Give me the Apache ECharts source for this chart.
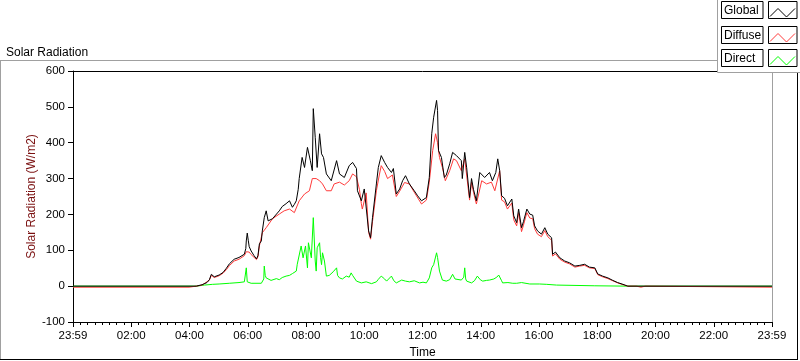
<!DOCTYPE html>
<html><head><meta charset="utf-8">
<script src="https://cdn.jsdelivr.net/npm/echarts@6/dist/echarts.min.js"></script>
<style>html,body{margin:0;padding:0;background:#fff}#c{width:800px;height:361px}</style>
</head><body><div id="c"></div>
<script>
// ---- data (times in minutes after midnight; -1 = 23:59 of previous day) ----
// The x axis runs from 23:59 (previous day) to 23:59: axis value = minutes + 1.
const seriesNames = ['Global', 'Diffuse', 'Direct'];
const xTickLabels = ['23:59', '02:00', '04:00', '06:00', '08:00', '10:00', '12:00', '14:00', '16:00', '18:00', '20:00', '22:00', '23:59'];
const yTickValues = [-100, 0, 100, 200, 300, 400, 500, 600];

const globalTimes = [-1,253,265,275,280,284,290,300,308,315,321,331,341,352,355,356,358,360,362,366,372,377,380,383,387,389,393,397,401,410,424,430,438,445,451,455,459,463,465,471,476,482,488,492,494,498,502,507,511,515,521,531,542,548,558,568,575,583,585,593,599,603,608,612,616,624,628,634,641,647,655,659,665,672,678,684,692,702,709,717,727,733,738,742,748,750,752,758,764,768,775,781,789,799,801,806,810,816,820,824,830,837,847,857,863,870,874,878,882,888,894,903,907,913,917,923,927,934,940,946,950,956,964,971,977,985,987,993,1002,1012,1022,1033,1043,1053,1063,1074,1080,1090,1101,1111,1121,1132,1142,1439];
const globalValues = [0,0,4,10,18,33,26,31,38,50,62,75,80,89,105,126,148,128,110,98,85,76,85,118,126,154,191,210,182,188,210,222,230,238,220,228,238,270,300,359,331,387,350,322,495,415,331,425,369,359,313,294,350,313,303,336,345,328,266,238,271,266,154,135,191,285,331,364,345,331,317,328,257,271,294,308,285,266,252,238,247,303,425,471,518,490,378,359,303,310,341,373,364,350,300,373,330,247,300,270,238,317,303,317,294,317,355,322,252,245,224,243,196,177,215,163,180,215,201,198,168,154,145,163,145,135,89,95,79,70,65,56,58,61,53,51,34,28,23,16,10,5,0,0];

const diffuseTimes = [-1,238,240,253,265,280,284,290,300,308,315,321,331,341,352,356,358,362,366,377,380,383,389,397,410,424,434,445,455,465,476,486,492,500,507,513,521,531,537,548,558,568,575,583,589,593,595,603,608,612,616,624,630,634,641,647,657,665,672,682,692,702,717,727,733,740,746,750,754,760,766,775,783,789,799,806,816,820,824,830,841,851,861,868,878,882,888,894,903,907,913,917,923,927,934,940,946,950,956,964,971,977,985,987,993,1002,1012,1022,1033,1043,1053,1063,1074,1080,1090,1101,1111,1121,1132,1142,1160,1162,1169,1171,1178,1180,1439];
const diffuseValues = [-3,-3,0,0,3,17,30,24,29,36,46,57,70,75,85,96,100,95,88,74,82,112,149,163,188,201,210,215,205,238,257,266,300,300,294,285,266,266,285,290,282,294,313,305,270,230,215,260,150,131,180,266,310,336,320,300,310,250,265,289,285,262,229,240,290,378,425,400,359,331,294,322,355,350,322,355,240,290,262,229,294,285,290,266,322,240,235,215,232,185,168,205,152,170,205,190,188,160,145,138,155,138,128,84,90,75,67,62,53,56,58,51,49,32,26,21,15,9,4,0,0,-3,-3,0,0,-3,-3];

const directTimes = [-1,253,270,286,300,321,341,352,355,356,358,366,387,392,393,395,397,407,418,424,430,438,445,451,455,459,461,465,469,473,478,482,484,490,494,498,500,502,507,509,511,513,517,521,527,535,542,544,548,554,562,568,572,575,583,593,603,614,624,628,634,641,645,655,660,665,676,684,692,702,713,720,727,733,738,742,748,750,754,760,768,775,781,786,789,799,804,806,808,810,820,826,832,838,843,851,857,866,872,876,878,882,884,895,905,913,923,940,960,975,995,1074,1142,1439];
const directValues = [0,0,3,5,6,8,10,12,14,51,12,8,8,20,56,30,23,16,21,18,24,28,30,35,40,42,61,61,112,79,112,51,121,79,191,70,42,107,121,80,60,93,70,28,30,40,51,30,23,20,28,25,37,30,14,9,12,7,12,19,28,20,14,28,15,9,17,14,12,15,9,11,9,23,51,60,93,80,42,17,14,18,33,20,17,17,25,51,20,14,9,15,28,18,14,16,17,20,25,31,34,15,9,10,8,8,10,6,6,5,3,1,0,0];

const seriesColors = { Global: '#000000', Diffuse: '#ff3a3a', Direct: '#00ff00' };

// ---- build ----
function pairs(t, v) { return t.map((x, i) => [x + 1, v[i]]); }

const FONT = 'Liberation Sans';
const chart = echarts.init(document.getElementById('c'), null, { renderer: 'canvas' });

const legendG = [];
const legendTops = [1.5, 26.5, 49.5];
legendG.push({ type: 'rect', shape: { x: 717.5, y: -1, width: 90, height: 73.5 }, style: { fill: '#fff', stroke: '#a0a0a0', lineWidth: 1 }, z: 100 });
seriesNames.forEach((n, i) => {
  const top = legendTops[i];
  legendG.push({ type: 'rect', shape: { x: 721.5, y: top, width: 41.5, height: 17 }, style: { fill: '#fff', stroke: '#000', lineWidth: 1 }, z: 101 });
  legendG.push({ type: 'text', x: 724, y: top + 9, style: { text: n, fill: '#000', font: '12px "' + FONT + '"', verticalAlign: 'middle' }, z: 102 });
  legendG.push({ type: 'rect', shape: { x: 768.5, y: top, width: 28.5, height: 17 }, style: { fill: '#fff', stroke: '#000', lineWidth: 1 }, z: 101 });
  legendG.push({ type: 'polyline', shape: { points: [[770, top + 15], [778, top + 7], [786.5, top + 15.5], [795, top + 7]] }, style: { stroke: seriesColors[n], lineWidth: 1, fill: null }, z: 102 });
});

const frameG = [
  { type: 'line', shape: { x1: 0, y1: 60.5, x2: 718, y2: 60.5 }, style: { stroke: '#a0a0a0', lineWidth: 1 }, z: 50 },
  { type: 'line', shape: { x1: 0.5, y1: 60.5, x2: 0.5, y2: 360 }, style: { stroke: '#a0a0a0', lineWidth: 1 }, z: 50 },
  { type: 'line', shape: { x1: 0, y1: 359.5, x2: 798, y2: 359.5 }, style: { stroke: '#000', lineWidth: 1 }, z: 50 },
  { type: 'line', shape: { x1: 797.5, y1: 72, x2: 797.5, y2: 360 }, style: { stroke: '#000', lineWidth: 1 }, z: 50 }
];

const option = {
  animation: false,
  backgroundColor: '#fff',
  textStyle: { fontFamily: FONT },
  title: { text: 'Solar Radiation', left: 1, top: 42, textStyle: { fontFamily: FONT, fontSize: 12, fontWeight: 'normal', color: '#000' } },
  grid: { left: 73, right: 28, top: 71, bottom: 39, containLabel: false, outerBoundsMode: 'none' },
  xAxis: [
    {
      type: 'value', min: 0, max: 1440, interval: 120, position: 'bottom',
      name: 'Time', nameLocation: 'middle', nameGap: 25, nameMoveOverlap: false,
      nameTextStyle: { fontFamily: FONT, fontSize: 12, color: '#000' },
      axisLine: { show: true, onZero: false, lineStyle: { color: '#000', width: 1 } },
      axisTick: { show: true, inside: false, length: 5, lineStyle: { color: '#000', width: 1 } },
      axisLabel: { show: true, margin: 8, fontFamily: FONT, fontSize: 11.5, color: '#000', showMinLabel: true, showMaxLabel: true,
        formatter: v => xTickLabels[Math.round(v / 120)] || '' },
      splitLine: { show: false }
    },
    {
      type: 'value', min: 0, max: 1440, interval: 15, position: 'bottom',
      axisLine: { show: false, onZero: false },
      axisTick: { show: true, inside: false, length: 3, lineStyle: { color: '#000', width: 1 } },
      axisLabel: { show: false },
      splitLine: { show: false }
    },
    {
      type: 'value', min: 0, max: 1440, position: 'top',
      axisLine: { show: true, onZero: false, lineStyle: { color: '#000', width: 1 } },
      axisTick: { show: false }, axisLabel: { show: false }, splitLine: { show: false }
    }
  ],
  yAxis: [
    {
      type: 'value', min: -100, max: 600, interval: 100, position: 'left',
      name: 'Solar Radiation (W/m2)', nameLocation: 'middle', nameGap: 35, nameRotate: 90, nameMoveOverlap: false,
      nameTextStyle: { fontFamily: FONT, fontSize: 12, color: '#7a1010' },
      axisLine: { show: true, onZero: false, lineStyle: { color: '#000', width: 1 } },
      axisTick: { show: true, inside: false, length: 5, lineStyle: { color: '#000', width: 1 } },
      axisLabel: { show: true, margin: 8, fontFamily: FONT, fontSize: 11.5, color: '#000',
        formatter: v => (yTickValues.indexOf(v) >= 0 ? String(v) : '') },
      splitLine: { show: false }
    },
    {
      type: 'value', min: -100, max: 600, interval: 100, position: 'right',
      axisLine: { show: true, onZero: false, lineStyle: { color: '#a0a0a0', width: 1 } },
      axisTick: { show: false }, axisLabel: { show: false }, splitLine: { show: false }
    }
  ],
  series: [
    { name: 'Direct', type: 'line', data: pairs(directTimes, directValues), showSymbol: false, symbol: 'none',
      lineStyle: { color: seriesColors.Direct, width: 1 }, itemStyle: { color: seriesColors.Direct }, z: 2 },
    { name: 'Diffuse', type: 'line', data: pairs(diffuseTimes, diffuseValues), showSymbol: false, symbol: 'none',
      lineStyle: { color: seriesColors.Diffuse, width: 1 }, itemStyle: { color: seriesColors.Diffuse }, z: 3 },
    { name: 'Global', type: 'line', data: pairs(globalTimes, globalValues), showSymbol: false, symbol: 'none',
      lineStyle: { color: seriesColors.Global, width: 1 }, itemStyle: { color: seriesColors.Global }, z: 4 }
  ],
  graphic: frameG.concat(legendG)
};
chart.setOption(option);
</script>
</body></html>
